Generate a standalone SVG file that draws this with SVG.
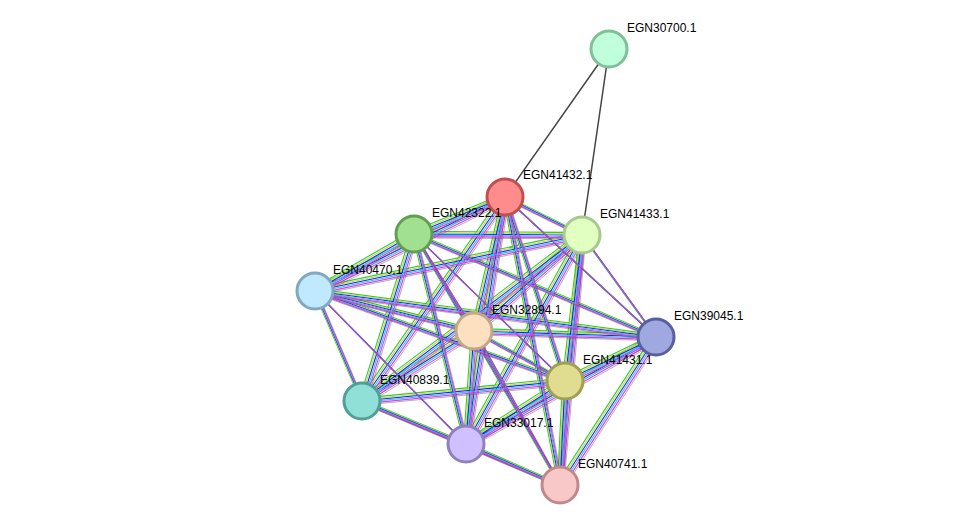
<svg xmlns="http://www.w3.org/2000/svg" xmlns:xlink="http://www.w3.org/1999/xlink" width="975" height="531" viewBox="0 0 975 531">
<style>
text{font-family:"Liberation Sans",Arial,sans-serif;font-size:12px;fill:#000}
.n{stroke-width:3}
</style>
<defs>
<g id="e" fill="none">
<path d="M505,197L414,234M505,197L582,235M505,197L315,291M505,197L474,331M505,197L656,337M505,197L565,381M505,197L362,401M505,197L466,444M505,197L560,485
M414,234L582,235M414,234L315,291M414,234L474,331M414,234L656,337M414,234L565,381M414,234L362,401M414,234L466,444M414,234L560,485
M582,235L315,291M582,235L474,331M582,235L656,337M582,235L565,381M582,235L362,401M582,235L466,444M582,235L560,485
M315,291L474,331M315,291L656,337M315,291L565,381M315,291L362,401M315,291L466,444
M474,331L656,337M474,331L565,381M474,331L362,401M474,331L466,444M474,331L560,485
M656,337L565,381M656,337L560,485M656,337L466,444
M565,381L362,401M565,381L466,444M565,381L560,485
M362,401L466,444M362,401L560,485M466,444L560,485"/>
</g>
</defs>
<g id="connectors">
<use xlink:href="#e" stroke="#3c3" stroke-width="1.1" transform="translate(-2.4,-2.6)"/>
<use xlink:href="#e" stroke="#c8d840" stroke-width="1.1" transform="translate(-1.2,-1.3)"/>
<use xlink:href="#e" stroke="#22f" stroke-width="1.1" transform="translate(0,0)"/>
<use xlink:href="#e" stroke="#2ce" stroke-width="1.1" transform="translate(1.2,1.3)"/>
<use xlink:href="#e" stroke="#e3e" stroke-width="1.1" transform="translate(2.4,2.6)"/>
<use xlink:href="#e" stroke="#555" stroke-width="0.8" opacity="0.6" transform="translate(3.6,3.9)"/>
<path d="M609,49L505,197M609,49L582,235" stroke="#444" stroke-width="1.5" fill="none"/>
</g>
<g id="EGN30700.1"><circle class="n" cx="609" cy="49" r="18" fill="#bfffd9" stroke="#7fbf9a"/><text x="627" y="32">EGN30700.1</text></g>
<g id="EGN41432.1"><circle class="n" cx="505" cy="197" r="18" fill="#ff8c8c" stroke="#c05050"/><text x="523" y="179">EGN41432.1</text></g>
<g id="EGN41433.1"><circle class="n" cx="582" cy="235" r="18" fill="#e0ffc0" stroke="#a8c890"/><text x="600" y="218">EGN41433.1</text></g>
<g id="EGN42322.1"><circle class="n" cx="414" cy="234" r="18" fill="#a0e090" stroke="#5fa050"/><text x="432" y="217">EGN42322.1</text></g>
<g id="EGN40470.1"><circle class="n" cx="315" cy="291" r="18" fill="#c0e8ff" stroke="#80a8c0"/><text x="333" y="274">EGN40470.1</text></g>
<g id="EGN32894.1"><circle class="n" cx="474" cy="331" r="18" fill="#fde0c0" stroke="#c0a888"/><text x="492" y="314">EGN32894.1</text></g>
<g id="EGN39045.1"><circle class="n" cx="656" cy="337" r="18" fill="#a0a8e0" stroke="#5860a0"/><text x="674" y="320">EGN39045.1</text></g>
<g id="EGN41431.1"><circle class="n" cx="565" cy="381" r="18" fill="#e0dc90" stroke="#a0a050"/><text x="583" y="364">EGN41431.1</text></g>
<g id="EGN40839.1"><circle class="n" cx="362" cy="401" r="18" fill="#90e0d8" stroke="#50a098"/><text x="380" y="384">EGN40839.1</text></g>
<g id="EGN33017.1"><circle class="n" cx="466" cy="444" r="18" fill="#d0c0ff" stroke="#9080c0"/><text x="484" y="427">EGN33017.1</text></g>
<g id="EGN40741.1"><circle class="n" cx="560" cy="485" r="18" fill="#f8c8c8" stroke="#c08888"/><text x="578" y="468">EGN40741.1</text></g>
</svg>
